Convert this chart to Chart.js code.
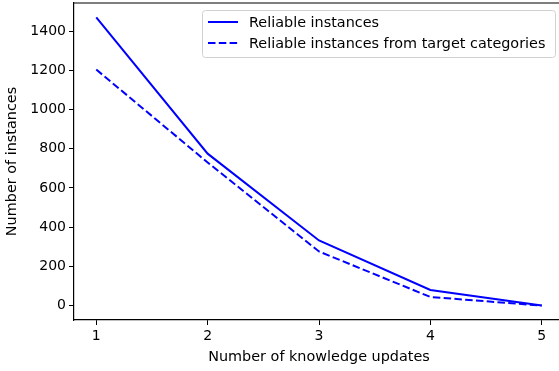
<!DOCTYPE html>
<html>
<head>
<meta charset="utf-8">
<script src="https://cdn.jsdelivr.net/npm/chart.js@4.4.1/dist/chart.umd.min.js"></script>
<style>
  html, body { margin: 0; padding: 0; background: #fff; overflow: hidden; }
  #wrap { width: 566px; height: 371px; }
</style>
</head>
<body>
<div id="wrap"><canvas id="chart" width="566" height="371"></canvas></div>
<script>
const updates = [1, 2, 3, 4, 5];
const reliable = [1470, 775, 332, 80, 0];
const reliableTarget = [1204, 730, 276, 44, 0];
const yTicks = [0, 200, 400, 600, 800, 1000, 1200, 1400];
const xTicks = [1, 2, 3, 4, 5];

const FONT = 'DejaVu Sans';

// legend drawn inside the plot, matplotlib style
const innerLegend = {
  id: 'innerLegend',
  afterDraw(chart) {
    const ctx = chart.ctx;
    const x0 = 202, y0 = 10, w = 353, h = 47;
    ctx.save();
    ctx.fillStyle = 'rgba(255,255,255,0.8)';
    ctx.strokeStyle = '#d0d0d0';
    ctx.lineWidth = 1;
    ctx.beginPath();
    ctx.roundRect(x0 + 0.5, y0 + 0.5, w, h, 3);
    ctx.fill();
    ctx.stroke();
    ctx.font = '14.4px ' + FONT;
    ctx.textBaseline = 'middle';
    chart.data.datasets.forEach((ds, i) => {
      const y = y0 + 12 + i * 21;
      ctx.strokeStyle = ds.borderColor;
      ctx.lineWidth = ds.borderWidth;
      ctx.setLineDash(ds.borderDash || []);
      ctx.beginPath();
      ctx.moveTo(208, y);
      ctx.lineTo(238, y);
      ctx.stroke();
      ctx.setLineDash([]);
      ctx.fillStyle = '#000';
      ctx.fillText(ds.label, 249, y + 1);
    });
    ctx.restore();
  }
};

new Chart('chart', {
  type: 'line',
  data: {
    datasets: [
      {
        label: 'Reliable instances',
        data: updates.map((u, i) => ({ x: u, y: reliable[i] })),
        borderColor: '#0000ff',
        borderWidth: 2,
        pointRadius: 0,
        fill: false,
      },
      {
        label: 'Reliable instances from target categories',
        data: updates.map((u, i) => ({ x: u, y: reliableTarget[i] })),
        borderColor: '#0000ff',
        borderWidth: 2,
        borderDash: [7.5, 3.3],
        pointRadius: 0,
        fill: false,
      },
    ],
  },
  options: {
    responsive: false,
    animation: false,
    layout: { padding: { top: 3, right: 2, left: 0, bottom: 0 } },
    plugins: { legend: { display: false }, tooltip: { enabled: false } },
    scales: {
      x: {
        type: 'linear',
        min: 0.8,
        max: 5.2,
        afterBuildTicks: (scale) => { scale.ticks = xTicks.map(v => ({ value: v })); },
        afterFit: (scale) => { scale.height = 51; scale.paddingLeft = 0; scale.paddingRight = 0; },
        grid: { drawOnChartArea: false, tickLength: 5, color: '#000', tickColor: '#000' },
        border: { display: true, color: '#000', width: 1.2 },
        ticks: { color: '#000', font: { family: FONT, size: 14 }, padding: 3, maxRotation: 0,
                 callback: (v) => String(v) },
        title: {
          display: true,
          text: 'Number of knowledge updates',
          color: '#000',
          font: { family: FONT, size: 14.4 },
          padding: { top: 0, bottom: 5 },
        },
      },
      y: {
        min: -73.5,
        max: 1543.5,
        afterBuildTicks: (scale) => { scale.ticks = yTicks.map(v => ({ value: v })); },
        afterFit: (scale) => { scale.width = 74; scale.paddingTop = 0; scale.paddingBottom = 0; },
        grid: { drawOnChartArea: false, tickLength: 5, color: '#000', tickColor: '#000' },
        border: { display: true, color: '#000', width: 1.2 },
        ticks: { color: '#000', font: { family: FONT, size: 14 }, padding: 3,
                 callback: (v) => String(v) },
        title: {
          display: true,
          text: 'Number of instances',
          color: '#000',
          font: { family: FONT, size: 14.4 },
          padding: { top: 4, bottom: 0 },
        },
      },
    },
  },
  plugins: [innerLegend,
    {
      id: 'topSpine',
      afterDraw(chart) {
        const a = chart.chartArea, ctx = chart.ctx;
        ctx.save();
        ctx.strokeStyle = '#000';
        ctx.lineWidth = 1.2;
        ctx.beginPath();
        ctx.moveTo(a.left, a.top);
        ctx.lineTo(a.right, a.top);
        ctx.lineTo(a.right, a.bottom);
        ctx.stroke();
        ctx.restore();
      }
    }],
});
</script>
</body>
</html>
